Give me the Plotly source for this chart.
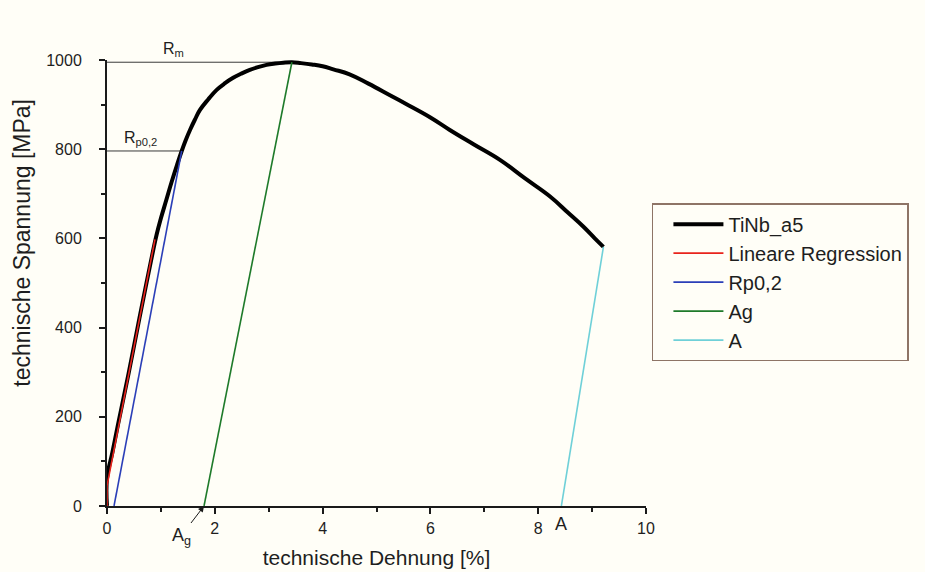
import plotly.graph_objects as go

# Zugversuch TiNb_a5: technische Dehnung [%] vs. technische Spannung [MPa]
strain = [0.0, 0.0, 0.1, 0.2, 0.4, 0.6, 0.8, 0.92, 1.0, 1.1, 1.2, 1.3, 1.386,
          1.46, 1.54, 1.63, 1.725, 1.88, 2.035, 2.19, 2.34, 2.5, 2.65, 2.8,
          2.96, 3.12, 3.27, 3.43, 3.6, 3.8, 4.0, 4.2, 4.5, 4.85, 5.25, 5.6,
          6.0, 6.36, 6.8, 7.29, 7.75, 8.22, 8.55, 8.84, 9.05, 9.21]
stress = [0, 62, 120, 180, 297, 420, 540, 608, 645, 686, 727, 765, 796,
          820, 843, 866, 888, 912, 933, 948, 960, 970, 978, 984,
          989, 992, 994, 995, 993, 990, 986, 979, 968, 947, 921, 898,
          871, 843, 811, 776, 735, 694, 658, 626, 600, 581]

# Lineare Regression im elastischen Bereich
reg_x = [0.0, 0.0, 0.89]
reg_y = [0, 45, 598]

# Parallele zur Hookeschen Geraden (Rp0,2)
rp_x = [0.13, 1.386]
rp_y = [0, 796]

# Gleichmaßdehnung Ag (Entlastungsgerade vom Maximum)
ag_x = [1.80, 3.43]
ag_y = [0, 995]

# Bruchdehnung A (Entlastungsgerade vom Bruchpunkt)
a_x = [8.43, 9.21]
a_y = [0, 581]

# Kennwerte
Rm = 995
Rm_strain = 3.43
Rp02 = 796
Rp02_strain = 1.386
Ag = 1.80
A = 8.43

FONT = "Liberation Sans, Arial, sans-serif"
TEXT = "#1e1e1e"
BG = "#fffef7"

fig = go.Figure()

# horizontal guide lines for Rm and Rp0,2
fig.add_trace(go.Scatter(x=[0, Rm_strain], y=[Rm, Rm], mode="lines",
                         line=dict(color="#3a3a3a", width=1), showlegend=False,
                         hoverinfo="skip"))
fig.add_trace(go.Scatter(x=[0, Rp02_strain], y=[Rp02, Rp02], mode="lines",
                         line=dict(color="#3a3a3a", width=1), showlegend=False,
                         hoverinfo="skip"))

fig.add_trace(go.Scatter(x=strain, y=stress, mode="lines", name="TiNb_a5",
                         line=dict(color="#000000", width=4, shape="spline",
                                   smoothing=1.2)))
fig.add_trace(go.Scatter(x=reg_x, y=reg_y, mode="lines", name="Lineare Regression",
                         line=dict(color="#e8231c", width=1.6)))
fig.add_trace(go.Scatter(x=rp_x, y=rp_y, mode="lines", name="Rp0,2",
                         line=dict(color="#2b3fb8", width=1.6)))
fig.add_trace(go.Scatter(x=ag_x, y=ag_y, mode="lines", name="Ag",
                         line=dict(color="#1e7a2a", width=1.6)))
fig.add_trace(go.Scatter(x=a_x, y=a_y, mode="lines", name="A",
                         line=dict(color="#6fd0d8", width=1.6)))

axis_common = dict(
    showline=True, linecolor="#1a1a1a", linewidth=2,
    showgrid=False, zeroline=False,
    ticks="outside", ticklen=6, tickwidth=1.5, tickcolor="#1a1a1a",
    tickfont=dict(family=FONT, size=16, color=TEXT),
    mirror=False,
)

fig.update_xaxes(range=[0, 10], dtick=2, tick0=0,
                 minor=dict(dtick=1, ticks="outside", ticklen=4,
                            tickwidth=1.5, tickcolor="#1a1a1a"),
                 ticklabelstandoff=1,
                 title=dict(text="technische Dehnung [%]",
                            font=dict(family=FONT, size=21, color=TEXT),
                            standoff=14),
                 **axis_common)
fig.update_yaxes(range=[0, 1000], dtick=200, tick0=0,
                 minor=dict(dtick=100, ticks="outside", ticklen=4,
                            tickwidth=1.5, tickcolor="#1a1a1a"),
                 ticklabelstandoff=14,
                 **axis_common)

annotations = [
    dict(text="technische Spannung [MPa]", textangle=-90,
         xref="paper", yref="paper", x=-0.158, y=0.59,
         xanchor="center", yanchor="middle",
         showarrow=False, font=dict(family=FONT, size=23, color=TEXT)),
    dict(text="R<sub>m</sub>", xref="x", yref="paper", x=1.24, y=1.024,
         xanchor="center", yanchor="middle",
         showarrow=False, font=dict(family=FONT, size=16, color=TEXT)),
    dict(text="R<sub>p0,2</sub>", xref="x", yref="y", x=0.63, y=Rp02 + 28,
         xanchor="center", yanchor="middle",
         showarrow=False, font=dict(family=FONT, size=16, color=TEXT)),
    dict(text="A<sub>g</sub>", xref="x", yref="y", x=Ag, y=0,
         showarrow=True, ax=-23, ay=30, arrowhead=2, arrowsize=1.2,
         arrowwidth=1, arrowcolor="#1a1a1a", standoff=0,
         font=dict(family=FONT, size=18, color=TEXT)),
    dict(text="A", xref="x", yref="paper", x=A, y=-0.04,
         xanchor="center", yanchor="middle",
         showarrow=False, font=dict(family=FONT, size=18, color=TEXT)),
]

fig.update_layout(
    width=925, height=572,
    margin=dict(l=107, r=279, t=60, b=66, autoexpand=False),
    paper_bgcolor=BG, plot_bgcolor=BG,
    font=dict(family=FONT, color=TEXT),
    annotations=annotations,
    legend=dict(x=1.011, y=0.679, xanchor="left", yanchor="top",
                bgcolor=BG, bordercolor="#8e7466", borderwidth=1.5,
                font=dict(family=FONT, size=20, color=TEXT),
                itemwidth=50, indentation=15, tracegroupgap=0),
)

fig.write_html("out.html")
